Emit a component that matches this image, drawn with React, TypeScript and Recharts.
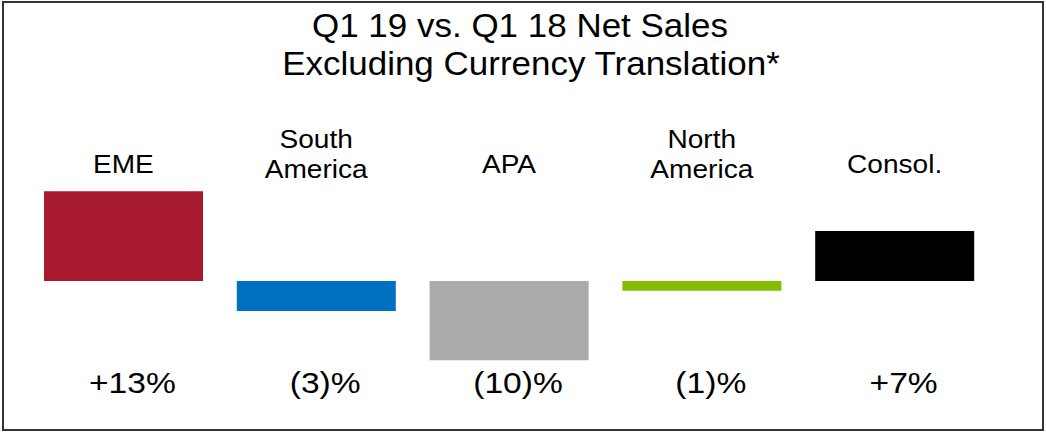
import { Bar, BarChart, Cell, XAxis, YAxis } from 'recharts'

const categories = ['EME', 'South America', 'APA', 'North America', 'Consol.']
const categoryLines = [['EME'], ['South', 'America'], ['APA'], ['North', 'America'], ['Consol.']]
// bar lengths (EME bar = 13%)
const changePct = [12.9, -4.3, -11.4, -1.4, 7.2]
const changeLabels = ['+13%', '(3)%', '(10)%', '(1)%', '+7%']
const barColors = ['#A6192E', '#0070C0', '#A9AAAC', '#84BD00', '#000000']
const titleLines = ['Q1 19 vs. Q1 18 Net Sales', 'Excluding Currency Translation*']

const FONT = '"Liberation Sans", Arial, sans-serif'

const data = categories.map((name, i) => ({ name, value: changePct[i], label: changeLabels[i] }))

function CategoryTick(props: any) {
  const { x, y, payload } = props
  const lines = categoryLines[payload.index] ?? [payload.value]
  const offsets = lines.length > 1 ? [-35.5, -5.5] : [-10.5]
  return (
    <g transform={`translate(${x},${y})`}>
      {lines.map((ln, i) => (
        <text key={i} y={offsets[i]} textAnchor="middle" transform="scale(1.06,1)"
          fontFamily={FONT} fontSize={26.5} fill="#000">{ln}</text>
      ))}
    </g>
  )
}

function ValueTick(props: any) {
  const { x, y, payload } = props
  return (
    <g transform={`translate(${x + 9},${y})`}>
      <text y={29} textAnchor="middle" transform="scale(1.12,1)"
        fontFamily={FONT} fontSize={30} fill="#000">{changeLabels[payload.index]}</text>
    </g>
  )
}

export default function App() {
  return (
    <div style={{ position: 'absolute', left: 0, top: 0, width: 1046, height: 432, background: '#fff' }}>
      <BarChart width={1046} height={432} data={data}
        margin={{ top: 143.7, right: 55, bottom: 27.6, left: 27 }} barCategoryGap={17}>
        <XAxis xAxisId="top" orientation="top" dataKey="name" height={40} interval={0}
          axisLine={false} tickLine={false} tickSize={0} tickMargin={0} tick={<CategoryTick />} />
        <XAxis xAxisId="bottom" orientation="bottom" dataKey="name" height={40} interval={0}
          axisLine={false} tickLine={false} tickSize={0} tickMargin={0} tick={<ValueTick />} />
        <YAxis hide domain={[-12, 14]} />
        <Bar xAxisId="top" dataKey="value" isAnimationActive={false}>
          {data.map((_, i) => (
            <Cell key={i} fill={barColors[i]} />
          ))}
        </Bar>
      </BarChart>
      <svg width={1046} height={432} style={{ position: 'absolute', left: 0, top: 0, pointerEvents: 'none' }}>
        <rect x={3} y={2} width={1040} height={428} fill="none" stroke="#333" strokeWidth={2} />
        <g transform="translate(520,37)">
          <text textAnchor="middle" transform="scale(1.06,1)" fontFamily={FONT} fontSize={33} fill="#000">{titleLines[0]}</text>
        </g>
        <g transform="translate(531,75)">
          <text textAnchor="middle" transform="scale(1.06,1)" fontFamily={FONT} fontSize={33} fill="#000">{titleLines[1]}</text>
        </g>
      </svg>
    </div>
  )
}
